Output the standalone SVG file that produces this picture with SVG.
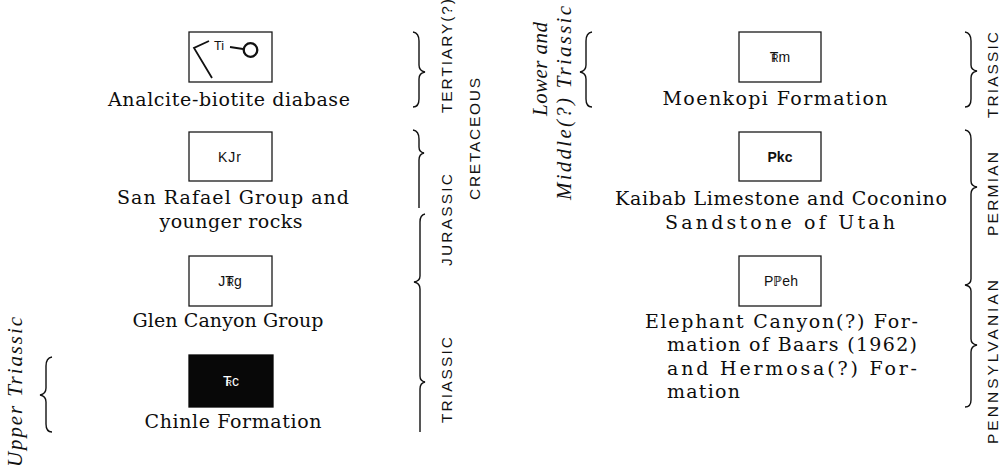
<svg xmlns="http://www.w3.org/2000/svg" width="1004" height="472" viewBox="0 0 1004 472">
<style>
.box{fill:#fff;stroke:#1a1a1a;stroke-width:1.3}
.boxk{fill:#080808;stroke:#080808;stroke-width:1.3}
.lab{font-family:"DejaVu Serif","Liberation Serif",serif;font-size:19px;fill:#0d0d0d;text-anchor:middle}
.labl{font-family:"DejaVu Serif","Liberation Serif",serif;font-size:19px;fill:#0d0d0d}
.sym{font-family:"Liberation Sans",Arial,sans-serif;font-size:14px;fill:#111;text-anchor:middle}
.age{font-family:"Liberation Sans",Arial,sans-serif;font-size:15.5px;fill:#111;text-anchor:middle}
.ital{font-family:"Liberation Serif","Times New Roman",serif;font-style:italic;font-size:21px;fill:#111;text-anchor:middle}
.br{fill:none;stroke:#111;stroke-width:1.4}
</style>
<rect width="1004" height="472" fill="#fff"/>

<g id="connectors">
  <path class="br" d="M52,357 Q46,358 46,366 L46,388 Q46,394 40,395 Q46,396 46,402 L46,424 Q46,432 52,432"/>
  <path class="br" d="M413,32 Q419,33 419,41 L419,65 Q419,71 425,72 Q419,73 419,79 L419,99 Q419,107 413,107"/>
  <path class="br" d="M413,130 Q419,131 419,139 L419,147 Q419,152 424,153 Q419,154 419,160 L419,208"/>
  <path class="br" d="M425,214 Q420,215 420,222 L420,276 Q420,281 414,282 Q420,283 420,289 L420,376 Q420,381 425,382 Q420,383 420,389 L420,432"/>
  <path class="br" d="M592,32 Q586,33 586,41 L586,65 Q586,71 580,72 Q586,73 586,79 L586,99 Q586,107 592,107"/>
  <path class="br" d="M965,32 Q971,33 971,41 L971,65 Q971,70 977,71 Q971,72 971,78 L971,99 Q971,107 965,107"/>
  <path class="br" d="M965,130 Q971,131 971,139 L971,181 Q971,186 977,187 Q971,188 971,194 L971,279 Q971,284 965,285 Q971,286 971,291 L971,339 Q971,344 977,345 Q971,346 971,352 L971,400 Q971,407 965,407"/>
</g>

<g id="age-labels">
  <text class="ital" transform="translate(22,392) rotate(-90)" textLength="150" lengthAdjust="spacing">Upper Triassic</text>
  <text class="age" transform="translate(452,56) rotate(-90)" textLength="114" lengthAdjust="spacing">TERTIARY(?)</text>
  <text class="age" transform="translate(480,139) rotate(-90)" textLength="122" lengthAdjust="spacing">CRETACEOUS</text>
  <text class="age" transform="translate(452,220) rotate(-90)" textLength="92" lengthAdjust="spacing">JURASSIC</text>
  <text class="age" transform="translate(452,380) rotate(-90)" textLength="86" lengthAdjust="spacing">TRIASSIC</text>
  <text class="ital" transform="translate(547,69) rotate(-90)" textLength="94" lengthAdjust="spacing">Lower and</text>
  <text class="ital" transform="translate(571,103) rotate(-90)" textLength="194" lengthAdjust="spacing">Middle(?) Triassic</text>
  <text class="age" transform="translate(998,75) rotate(-90)" textLength="86" lengthAdjust="spacing">TRIASSIC</text>
  <text class="age" transform="translate(998,194) rotate(-90)" textLength="84" lengthAdjust="spacing">PERMIAN</text>
  <text class="age" transform="translate(998,362) rotate(-90)" textLength="164" lengthAdjust="spacing">PENNSYLVANIAN</text>
</g>

<g id="node-ti">
  <rect class="box" x="189" y="32" width="83" height="50"/>
  <path d="M209,41 L194,48 L212,78" fill="none" stroke="#111" stroke-width="1.8"/>
  <text x="214" y="50" font-family="Liberation Sans, Arial, sans-serif" font-size="12.5" fill="#111">Ti</text>
  <path d="M230,47 L243,49" fill="none" stroke="#111" stroke-width="1.8"/>
  <circle cx="250.5" cy="50" r="6.8" fill="none" stroke="#111" stroke-width="2.3"/>
  <text class="lab" x="229" y="106" textLength="242" lengthAdjust="spacing">Analcite-biotite diabase</text>
</g>

<g id="node-kjr">
  <rect class="box" x="189" y="132" width="83" height="49"/>
  <text class="sym" x="230" y="162" letter-spacing="1">KJr</text>
  <text class="lab" x="233" y="204" textLength="232" lengthAdjust="spacing">San Rafael Group and</text>
  <text class="lab" x="231" y="228" textLength="143" lengthAdjust="spacing">younger rocks</text>
</g>

<g id="node-jtrg">
  <rect class="box" x="189" y="256" width="83" height="50"/>
  <text class="sym" x="230" y="286">J<tspan>T</tspan><tspan dx="-7" font-size="10">R</tspan>g</text>
  <text class="lab" x="228" y="327" textLength="191" lengthAdjust="spacing">Glen Canyon Group</text>
</g>

<g id="node-trc">
  <rect class="boxk" x="189" y="355" width="84" height="52"/>
  <text class="sym" x="231" y="386" style="fill:#fff" font-size="12">T<tspan dx="-6" font-size="9">R</tspan>c</text>
  <text class="lab" x="233" y="428" textLength="177" lengthAdjust="spacing">Chinle Formation</text>
</g>

<g id="node-trm">
  <rect class="box" x="739" y="32" width="82" height="50"/>
  <text class="sym" x="780" y="62">T<tspan dx="-7" font-size="10">R</tspan>m</text>
  <text class="lab" x="775" y="105" textLength="225" lengthAdjust="spacing">Moenkopi Formation</text>
</g>

<g id="node-pkc">
  <rect class="box" x="739" y="132" width="82" height="49"/>
  <text class="sym" x="780" y="162" font-weight="bold">Pkc</text>
  <text class="lab" x="781" y="205" textLength="332" lengthAdjust="spacing">Kaibab Limestone and Coconino</text>
  <text class="lab" x="780" y="229" textLength="230" lengthAdjust="spacing">Sandstone of Utah</text>
</g>

<g id="node-ppeh">
  <rect class="box" x="739" y="256" width="82" height="50"/>
  <text class="sym" x="781" y="286">Pℙeh</text>
  <text class="labl" x="645" y="328" textLength="273" lengthAdjust="spacing">Elephant Canyon(?) For-</text>
  <text class="labl" x="667" y="351" textLength="250" lengthAdjust="spacing">mation of Baars (1962)</text>
  <text class="labl" x="667" y="375" textLength="250" lengthAdjust="spacing">and Hermosa(?) For-</text>
  <text class="labl" x="667" y="398" textLength="73" lengthAdjust="spacing">mation</text>
</g>
</svg>
